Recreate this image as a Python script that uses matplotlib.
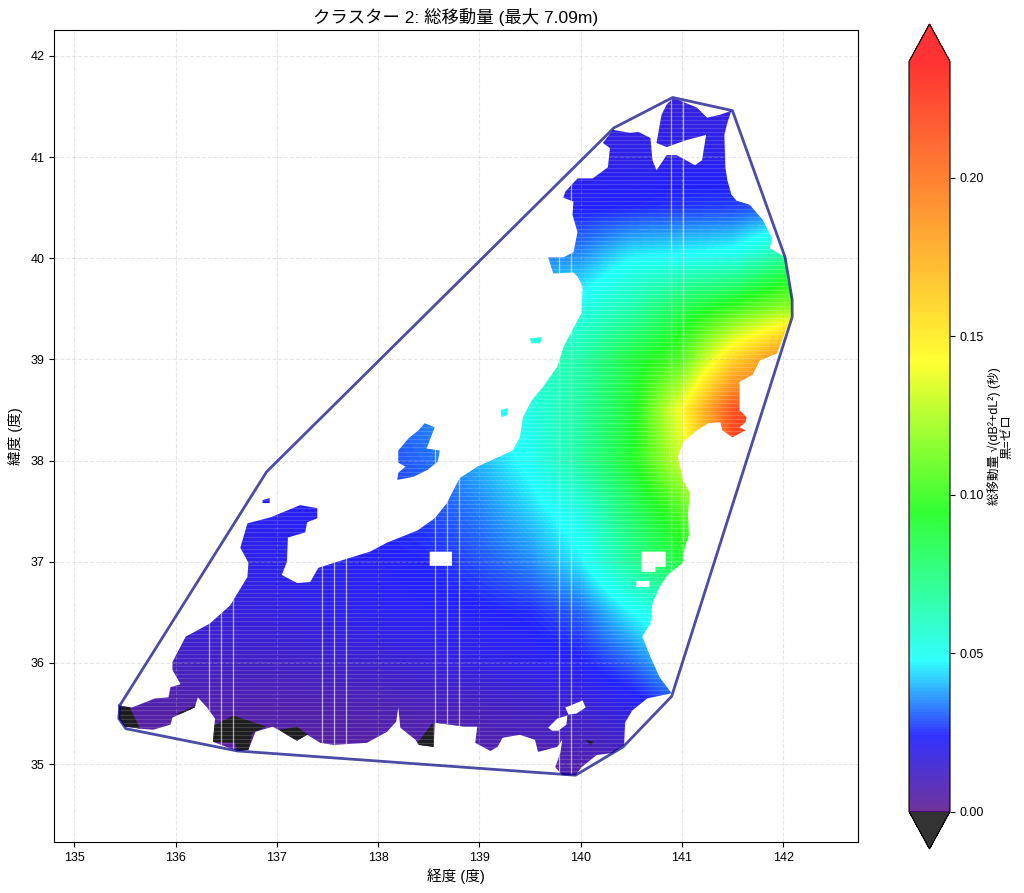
import numpy as np
import matplotlib
matplotlib.use("Agg")
import matplotlib.pyplot as plt
from matplotlib.cm import ScalarMappable
from matplotlib.colors import LinearSegmentedColormap
from matplotlib.patches import PathPatch, Polygon
from matplotlib.path import Path

plt.rcParams['font.family'] = ['Liberation Sans', 'Noto Sans CJK JP', 'DejaVu Sans']

TITLE = 'クラスター 2: 総移動量 (最大 7.09m)'
XLABEL = '経度 (度)'
YLABEL = '緯度 (度)'
CBAR_LABEL = '総移動量 √(dB²+dL²) (秒)\n黒=ゼロ'
CBAR_TICKS = [0.0, 0.05, 0.10, 0.15, 0.20]
VMAX = 0.2366

HULL = [(135.45,35.58),(135.44,35.45),(135.51,35.35),(136.61,35.13),(139.95,34.89),(140.42,35.17),
        (140.90,35.67),(142.09,39.42),(142.09,39.59),(142.02,40.01),(141.50,41.46),(140.91,41.59),
        (140.33,41.29),(136.90,37.89)]

COAST = [(140.91,41.58),(140.98,41.56),(141.15,41.49),(141.25,41.39),(141.38,41.42),(141.49,41.46),
 (141.45,41.34),(141.42,41.22),(141.43,40.90),(141.45,40.77),(141.49,40.63),(141.54,40.57),(141.67,40.53),
 (141.80,40.38),(141.89,40.20),(141.87,40.10),(142.02,40.01),(142.04,39.79),(142.09,39.62),(142.08,39.42),
 (142.00,39.22),(141.94,39.06),(141.77,38.99),(141.70,38.85),(141.57,38.78),(141.57,38.50),(141.64,38.43),
 (141.63,38.38),(141.57,38.33),(141.63,38.30),(141.50,38.23),(141.40,38.30),(141.38,38.38),(141.26,38.37),
 (141.15,38.30),(141.01,38.18),(140.96,38.04),(141.01,37.81),(141.08,37.68),(141.06,37.48),(141.07,37.26),
 (141.03,37.15),(141.01,36.99),(140.86,36.87),(140.78,36.75),(140.71,36.59),(140.69,36.39),(140.61,36.26),
 (140.69,36.06),(140.78,35.86),(140.90,35.70),(140.66,35.65),(140.51,35.53),(140.44,35.41),(140.43,35.19),
 (140.32,35.11),(140.16,35.09),(140.01,34.97),(139.95,34.89),(139.82,34.89),(139.75,34.97),(139.80,35.11),
 (139.82,35.24),(139.77,35.17),(139.58,35.12),(139.55,35.24),(139.40,35.29),(139.23,35.26),(139.18,35.17),
 (139.11,35.13),(138.96,35.21),(138.98,35.37),(138.86,35.37),(138.56,35.41),(138.55,35.17),(138.40,35.19),
 (138.37,35.24),(138.22,35.36),(138.20,35.56),(138.18,35.42),(138.09,35.32),(137.89,35.21),(137.56,35.19),
 (137.43,35.21),(137.30,35.29),(137.20,35.23),(137.05,35.32),(136.96,35.37),(136.79,35.32),(136.72,35.14),
 (136.61,35.13),(136.37,35.22),(136.39,35.45),(136.31,35.56),(136.22,35.66),(136.19,35.56),(135.97,35.46),
 (135.95,35.39),(135.78,35.34),(135.65,35.35),(135.50,35.37),(135.44,35.45),(135.44,35.58),(135.57,35.56),
 (135.80,35.65),(135.93,35.66),(135.95,35.76),(136.05,35.79),(135.97,35.93),(135.97,36.01),(136.10,36.26),
 (136.34,36.39),(136.54,36.57),(136.71,36.85),(136.72,36.99),(136.64,37.14),(136.71,37.38),(136.94,37.44),
 (137.23,37.56),(137.40,37.53),(137.40,37.43),(137.30,37.39),(137.28,37.29),(137.11,37.24),(137.10,37.00),
 (137.05,36.87),(137.20,36.79),(137.33,36.80),(137.41,36.94),(137.66,37.02),(137.92,37.10),(138.09,37.19),
 (138.39,37.31),(138.56,37.43),(138.68,37.58),(138.76,37.74),(138.81,37.83),(138.98,37.94),(139.20,38.04),
 (139.33,38.10),(139.40,38.23),(139.43,38.43),(139.52,38.60),(139.63,38.73),(139.77,38.93),(139.83,39.12),
 (139.89,39.24),(140.01,39.46),(140.02,39.72),(139.97,39.82),(139.93,39.86),(139.73,39.85),(139.68,40.01),
 (139.83,40.01),(139.93,40.06),(139.97,40.26),(139.92,40.43),(139.93,40.56),(139.83,40.60),(139.85,40.66),
 (139.97,40.79),(140.12,40.79),(140.27,40.90),(140.29,41.09),(140.22,41.14),(140.32,41.27),(140.49,41.24),
 (140.57,41.25),(140.69,41.19),(140.71,40.97),(140.75,40.87),(140.85,41.02),(140.95,41.02),(141.13,40.92),
 (141.20,40.97),(141.24,41.22),(141.05,41.17),(140.85,41.10),(140.75,41.14),(140.80,41.42),(140.85,41.52)]
SADO = [(138.46,38.37),(138.56,38.33),(138.51,38.20),(138.48,38.12),(138.61,38.10),(138.59,37.99),(138.49,37.91),
 (138.35,37.84),(138.19,37.81),(138.20,37.88),(138.27,37.94),(138.20,37.98),(138.20,38.10),(138.30,38.22),(138.40,38.30)]
AWASHIMA = [(139.21,38.50),(139.28,38.52),(139.28,38.45),(139.22,38.43)]
TOBISHIMA = [(139.50,39.21),(139.62,39.22),(139.60,39.16),(139.51,39.16)]
NOTO_ISLET = [(136.86,37.61),(136.93,37.63),(136.93,37.58),(136.86,37.58)]
ISLANDS = [SADO, AWASHIMA, TOBISHIMA, NOTO_ISLET]

HOLES = [[(138.51,37.10),(138.73,37.10),(138.73,36.96),(138.51,36.96)],
 [(140.60,37.10),(140.84,37.10),(140.84,36.95),(140.74,36.95),(140.74,36.90),(140.60,36.90)],
 [(140.55,36.81),(140.68,36.81),(140.68,36.75),(140.55,36.75)],
 [(139.85,35.56),(139.95,35.60),(140.02,35.63),(140.05,35.56),(139.96,35.50),(139.88,35.49)],
 [(139.68,35.36),(139.77,35.45),(139.87,35.48),(139.86,35.39),(139.78,35.33),(139.72,35.33)]]

ZERO_AREAS = [[(135.44,35.58),(135.55,35.56),(135.65,35.35),(135.50,35.37),(135.44,35.45)],
 [(136.37,35.38),(136.57,35.48),(136.90,35.37),(136.76,35.31),(136.72,35.14),(136.61,35.13),(136.59,35.21),(136.37,35.22)],
 [(137.03,35.34),(137.20,35.37),(137.31,35.29),(137.20,35.23),(137.06,35.29)],
 [(138.54,35.41),(138.55,35.17),(138.43,35.16),(138.39,35.21)],
 [(138.56,35.41),(138.86,35.37),(138.68,35.35),(138.56,35.37)],
 [(136.02,35.50),(136.21,35.59),(136.22,35.56),(136.05,35.48)],
 [(140.05,35.24),(140.13,35.22),(140.10,35.19)]]

GAP_LONS = [136.33,136.45,136.57,137.45,137.57,137.685,138.56,138.68,138.80,139.79,139.91,140.89,141.01]

GRID_LON = [135.0,135.5,136.0,136.5,137.0,137.5,138.0,138.5,139.0,139.5,140.0,140.5,141.0,141.5,142.0,142.5]
GRID_LAT = [35.0,35.5,36.0,36.5,37.0,37.5,38.0,38.5,39.0,39.5,40.0,40.5,41.0,41.5]
SHIFT = [
 [.003,.003,.003,.003,.004,.004,.004,.004,.005,.006,.007,.009,.012,.015,.015,.015],
 [.005,.005,.005,.006,.006,.006,.007,.008,.009,.011,.013,.018,.026,.030,.030,.030],
 [.011,.011,.011,.012,.012,.013,.014,.016,.018,.020,.023,.031,.045,.050,.050,.050],
 [.016,.016,.016,.016,.017,.019,.021,.022,.023,.025,.031,.047,.060,.065,.065,.065],
 [.019,.019,.019,.019,.020,.021,.022,.024,.029,.035,.046,.070,.090,.095,.095,.095],
 [.021,.021,.021,.021,.021,.023,.025,.028,.034,.043,.054,.080,.105,.130,.140,.140],
 [.024,.024,.024,.024,.024,.026,.028,.032,.040,.050,.068,.092,.132,.225,.225,.225],
 [.026,.026,.026,.026,.026,.028,.030,.035,.042,.053,.068,.090,.142,.215,.225,.225],
 [.030,.030,.030,.030,.030,.032,.035,.040,.048,.056,.066,.088,.105,.158,.195,.210],
 [.030,.030,.030,.030,.030,.032,.035,.038,.042,.048,.052,.065,.085,.100,.118,.125],
 [.030,.030,.030,.030,.030,.030,.030,.030,.032,.034,.036,.047,.049,.052,.070,.075],
 [.020,.020,.020,.020,.020,.020,.020,.020,.021,.022,.023,.024,.026,.027,.030,.030],
 [.018,.018,.018,.018,.018,.018,.018,.018,.018,.019,.019,.019,.020,.020,.020,.020],
 [.016,.016,.016,.016,.016,.016,.016,.016,.016,.017,.017,.017,.017,.017,.017,.017],
]
CMAP_COLORS = ['indigo', 'blue', 'cyan', 'lime', 'yellow', 'red']
CMAP_STOPS = [0.0, 0.1, 0.2, 0.4, 0.6, 1.0]


def ring(points, ccw=True):
    arr = np.array(points, dtype=float)
    area = 0.5 * np.sum(arr[:, 0] * np.roll(arr[:, 1], -1) - np.roll(arr[:, 0], -1) * arr[:, 1])
    if (area > 0) != ccw:
        arr = arr[::-1]
    verts = np.vstack([arr, arr[:1]])
    codes = [Path.MOVETO] + [Path.LINETO] * (len(arr) - 1) + [Path.CLOSEPOLY]
    return verts, codes


rings = [ring(COAST)] + [ring(p) for p in ISLANDS] + [ring(h, ccw=False) for h in HOLES]
land_path = Path(np.vstack([r[0] for r in rings]), sum((r[1] for r in rings), []))

cmap = LinearSegmentedColormap.from_list('shift', list(zip(CMAP_STOPS, CMAP_COLORS)), N=256)
cmap.set_under('black')
cmap.set_over('red')

fig = plt.figure(figsize=(10.24, 8.93), dpi=100)
ax = fig.add_axes([54 / 1024, 1 - 842 / 893, 804 / 1024, 812 / 893])
ax.set_axisbelow(True)
ax.grid(True, linestyle='--', alpha=0.3)

step_x = GRID_LON[1] - GRID_LON[0]
step_y = GRID_LAT[1] - GRID_LAT[0]
extent = [GRID_LON[0] - step_x / 2, GRID_LON[-1] + step_x / 2, GRID_LAT[0] - step_y / 2, GRID_LAT[-1] + step_y / 2]
im = ax.imshow(np.array(SHIFT), origin='lower', extent=extent, cmap=cmap, vmin=0, vmax=VMAX, alpha=0.88,
               interpolation='bilinear', interpolation_stage='data', aspect='auto', zorder=0)

clip = PathPatch(land_path, facecolor='none', edgecolor='none', transform=ax.transData)
ax.add_patch(clip)
im.set_clip_path(clip)

for area in ZERO_AREAS:
    p = Polygon(area, closed=True, facecolor='#1c1c1c', edgecolor='none', zorder=1)
    ax.add_patch(p)
    p.set_clip_path(clip)

bands = ax.hlines(np.arange(34.85, 41.65, 0.04), 135, 142.5, color='white', lw=0.9, alpha=0.16, zorder=1.2)
bands.set_clip_path(clip)
gaps = ax.vlines(GAP_LONS, 34.8, 41.7, color='white', lw=0.9, alpha=0.65, zorder=1.3)
gaps.set_clip_path(clip)

hull = np.array(HULL + HULL[:1])
ax.plot(hull[:, 0], hull[:, 1], color='navy', lw=2, alpha=0.7, zorder=3)

ax.set_xlim(134.80, 142.74)
ax.set_ylim(34.23, 42.257)
ax.set_xticks(range(135, 143))
ax.set_yticks(range(35, 43))
ax.set_xlabel(XLABEL, fontsize=10.5, labelpad=3)
ax.set_ylabel(YLABEL, fontsize=10.5, labelpad=5)
ax.set_title(TITLE, fontsize=12.5, pad=5)
ax.tick_params(labelsize=9)

cax = fig.add_axes([909 / 1024, 1 - 849 / 893, 41 / 1024, 825 / 893])
sm = ScalarMappable(norm=im.norm, cmap=cmap)
cbar = fig.colorbar(sm, cax=cax, extend='both', alpha=0.8)
cbar.set_ticks(CBAR_TICKS)
cbar.ax.set_yticklabels([f'{t:.2f}' for t in CBAR_TICKS])
cbar.ax.tick_params(labelsize=9)
cbar.set_label(CBAR_LABEL, fontsize=9, linespacing=1.05, labelpad=2)

fig.savefig('out.png', dpi=100)
